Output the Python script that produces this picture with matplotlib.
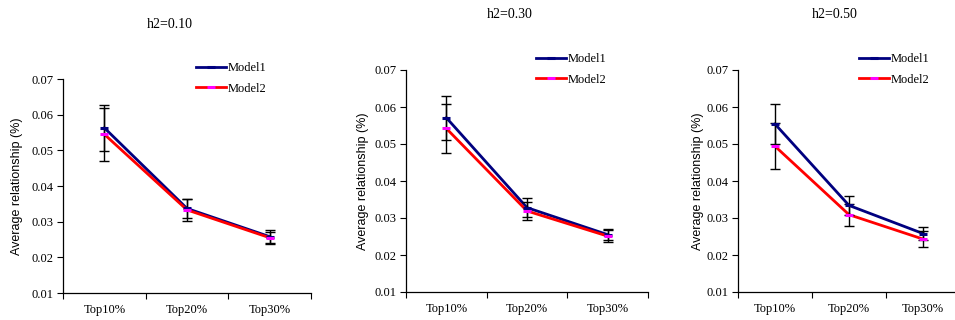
import matplotlib.pyplot as plt
from matplotlib.lines import Line2D

categories = ['Top10%', 'Top20%', 'Top30%']
titles = ['h2=0.10', 'h2=0.30', 'h2=0.50']

model1 = [[0.0563, 0.0337, 0.0258],
          [0.0571, 0.0328, 0.0255],
          [0.0554, 0.0334, 0.0258]]
model1_err = [[0.0065, 0.0027, 0.0019],
              [0.0060, 0.0025, 0.0014],
              [0.0053, 0.0026, 0.0018]]
model2 = [[0.0545, 0.0333, 0.0255],
          [0.0542, 0.0319, 0.0251],
          [0.0494, 0.0309, 0.0243]]
model2_err = [[0.0075, 0.0030, 0.0017],
              [0.0066, 0.0025, 0.0016],
              [0.0062, 0.0030, 0.0021]]

W, H = 955, 320
fig = plt.figure(figsize=(9.55, 3.2), dpi=100)

# pixel boxes: left, right, top, bottom
boxes = [(63, 311, 79, 293), (406, 648, 70, 292), (738, 960, 70, 292)]
title_pos = [(170, 25), (510, 15), (835, 15)]
legend_pos = [(196, 62), (536, 53), (859, 53)]
ylabel_x = [17, 363, 698]

serif = 'Liberation Serif'
sans = 'Liberation Sans'
navy = '#00007f'
lw = 2.0

for i in range(3):
    l, r, t, b = boxes[i]
    ax = fig.add_axes([l / W, 1 - b / H, (r - l) / W, (b - t) / H])
    x = range(len(categories))
    ax.plot(x, model1[i], color=navy, lw=lw, zorder=2)
    ax.plot(x, model2[i], color='red', lw=lw, zorder=2)
    ax.errorbar(x, model1[i], yerr=model1_err[i], fmt='none', ecolor='black',
                elinewidth=1.0, capsize=3.5, capthick=1.0, zorder=3)
    ax.errorbar(x, model2[i], yerr=model2_err[i], fmt='none', ecolor='black',
                elinewidth=1.0, capsize=3.5, capthick=1.0, zorder=3)
    ax.plot(x, model1[i], ls='none', marker='_', ms=6, mew=2.2, color=navy, zorder=4)
    ax.plot(x, model2[i], ls='none', marker='_', ms=6, mew=2.2, color='magenta', zorder=4)

    ax.set_xlim(-0.5, 2.5)
    ax.set_ylim(0.01, 0.07)
    ax.set_yticks([0.01, 0.02, 0.03, 0.04, 0.05, 0.06, 0.07])
    ax.set_yticklabels(['%.2f' % v for v in ax.get_yticks()], fontfamily=serif, fontsize=9)
    ax.set_xticks([-0.5, 0.5, 1.5, 2.5])
    ax.set_xticklabels([])
    ax.set_xticks([0, 1, 2], minor=True)
    ax.set_xticklabels(categories, minor=True, fontfamily=serif, fontsize=9)
    ax.tick_params(axis='x', which='major', direction='out', length=4, width=0.8)
    ax.tick_params(axis='x', which='minor', length=0, pad=8)
    ax.tick_params(axis='y', direction='out', length=4, width=0.8, pad=3)
    for s in ['top', 'right']:
        ax.spines[s].set_visible(False)
    for s in ['left', 'bottom']:
        ax.spines[s].set_linewidth(0.9)
    ax.patch.set_visible(False)

    fig.text(ylabel_x[i] / W, 1 - (b + t) / 2 / H, 'Average relationship (%)',
             rotation=90, ha='center', va='center', fontfamily=sans, fontsize=9)
    fig.text(title_pos[i][0] / W, 1 - title_pos[i][1] / H, titles[i],
             ha='center', va='center', fontfamily=serif, fontsize=10)

    handles = [Line2D([], [], color=navy, lw=lw, marker='_', ms=6, mew=2.2,
                      markeredgecolor=navy),
               Line2D([], [], color='red', lw=lw, marker='_', ms=6, mew=2.2,
                      markeredgecolor='magenta')]
    lx, ly = legend_pos[i]
    fig.legend(handles, ['Model1', 'Model2'], loc='upper left',
               bbox_to_anchor=(lx / W, 1 - ly / H), frameon=False,
               prop={'family': serif, 'size': 9}, handlelength=2.4,
               handletextpad=0.15, labelspacing=0.7, numpoints=1,
               borderpad=0, borderaxespad=0)

fig.savefig('out.png', dpi=100)
